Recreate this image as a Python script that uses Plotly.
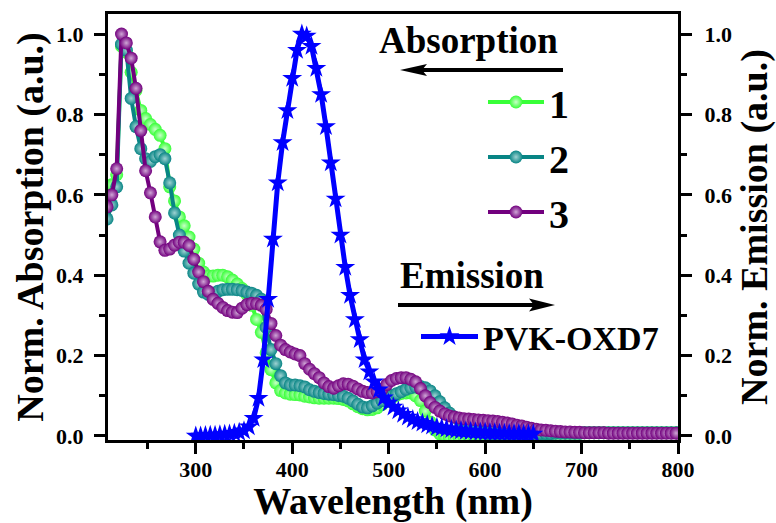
import plotly.graph_objects as go

# ---------------- data ----------------
WL_ABS = [208, 213, 218, 223, 228, 233, 238, 243, 248, 253,
          258, 263, 268, 273, 278, 283, 288, 293, 298, 303,
          308, 313, 318, 323, 328, 333, 338, 343, 348, 353,
          358, 363, 368, 373, 378, 383, 388, 393, 398, 403,
          408, 413, 418, 423, 428, 433, 438, 443, 448, 453,
          458, 463, 468, 473, 478, 483, 488, 493, 498, 503,
          508, 513, 518, 523, 528, 533, 538, 543, 548, 553,
          558, 563, 568, 573, 578, 583, 588, 593, 598, 603,
          608, 613, 618, 623, 628, 633, 638, 643, 648, 653,
          658, 663, 668, 673, 678, 683, 688, 693, 698, 703,
          708, 713, 718, 723, 728, 733, 738, 743, 748, 753,
          758, 763, 768, 773, 778, 783, 788, 793, 798]

ABS_1 = [0.60, 0.625, 0.65, 0.97, 0.955, 0.905, 0.86, 0.81, 0.79, 0.775,
         0.763, 0.748, 0.715, 0.62, 0.585, 0.545, 0.523, 0.495, 0.465, 0.43,
         0.408, 0.398, 0.398, 0.40, 0.40, 0.396, 0.388, 0.378, 0.367, 0.352,
         0.325, 0.29, 0.258, 0.207, 0.165, 0.132, 0.113, 0.107, 0.104, 0.103,
         0.102, 0.099, 0.097, 0.095, 0.094, 0.094, 0.094, 0.094, 0.093, 0.091,
         0.087, 0.08, 0.073, 0.068, 0.065, 0.066, 0.07, 0.078, 0.086, 0.094,
         0.101, 0.106, 0.107, 0.107, 0.10, 0.088, 0.062, 0.035, 0.015, 0.005,
         0.0, -0.003, -0.004, -0.003, -0.002, 0.0, 0.001, 0.002, 0.003, 0.004,
         0.005, 0.005, 0.005, 0.005, 0.005, 0.005, 0.005, 0.006, 0.006, 0.006,
         0.006, 0.006, 0.006, 0.007, 0.007, 0.007, 0.007, 0.007, 0.007, 0.008,
         0.008, 0.008, 0.008, 0.008, 0.008, 0.008, 0.008, 0.008, 0.008, 0.008,
         0.008, 0.008, 0.008, 0.008, 0.008, 0.008, 0.008, 0.008, 0.008]

ABS_2 = [0.54, 0.575, 0.62, 0.975, 0.96, 0.84, 0.77, 0.715, 0.69, 0.683,
         0.695, 0.70, 0.69, 0.63, 0.555, 0.50, 0.46, 0.43, 0.405, 0.378,
         0.358, 0.352, 0.355, 0.36, 0.364, 0.365, 0.365, 0.364, 0.362, 0.358,
         0.355, 0.35, 0.34, 0.27, 0.215, 0.18, 0.15, 0.132, 0.127, 0.127,
         0.125, 0.122, 0.115, 0.111, 0.108, 0.106, 0.104, 0.103, 0.101, 0.099,
         0.094, 0.087, 0.079, 0.072, 0.07, 0.075, 0.082, 0.088, 0.094, 0.10,
         0.105, 0.11, 0.116, 0.12, 0.122, 0.123, 0.12, 0.112, 0.10, 0.085,
         0.07, 0.057, 0.047, 0.04, 0.032, 0.024, 0.017, 0.012, 0.008, 0.006,
         0.005, 0.005, 0.005, 0.005, 0.005, 0.005, 0.005, 0.006, 0.006, 0.006,
         0.006, 0.006, 0.006, 0.007, 0.007, 0.007, 0.007, 0.007, 0.007, 0.008,
         0.008, 0.008, 0.008, 0.008, 0.008, 0.008, 0.008, 0.008, 0.008, 0.008,
         0.008, 0.008, 0.008, 0.008, 0.008, 0.008, 0.008, 0.008, 0.008]

ABS_3 = [0.57, 0.60, 0.665, 1.00, 0.978, 0.94, 0.865, 0.76, 0.66, 0.605,
         0.545, 0.483, 0.462, 0.465, 0.475, 0.482, 0.482, 0.474, 0.44, 0.408,
         0.384, 0.36, 0.34, 0.33, 0.32, 0.312, 0.308, 0.307, 0.318, 0.327,
         0.33, 0.329, 0.325, 0.315, 0.28, 0.25, 0.226, 0.215, 0.209, 0.204,
         0.20, 0.18, 0.166, 0.155, 0.145, 0.132, 0.123, 0.119, 0.125, 0.13,
         0.129, 0.124, 0.117, 0.111, 0.108, 0.107, 0.11, 0.116, 0.128, 0.138,
         0.143, 0.145, 0.145, 0.141, 0.135, 0.118, 0.10, 0.083, 0.071, 0.062,
         0.055, 0.05, 0.047, 0.045, 0.043, 0.042, 0.041, 0.04, 0.039, 0.038,
         0.037, 0.036, 0.034, 0.032, 0.03, 0.027, 0.025, 0.022, 0.019, 0.017,
         0.015, 0.014, 0.013, 0.012, 0.011, 0.01, 0.01, 0.009, 0.009, 0.008,
         0.008, 0.008, 0.008, 0.008, 0.007, 0.007, 0.007, 0.007, 0.007, 0.007,
         0.007, 0.007, 0.007, 0.007, 0.007, 0.007, 0.007, 0.007, 0.007]

WL_EM = [300, 305, 310, 315, 320, 325, 330, 335, 340, 345,
         350, 355, 360, 365, 370, 375, 380, 385, 390, 395,
         400, 405, 410, 415, 420, 425, 430, 435, 440, 445,
         450, 455, 460, 465, 470, 475, 480, 485, 490, 495,
         500, 505, 510, 515, 520, 525, 530, 535, 540, 545,
         550, 555, 560, 565, 570, 575, 580, 585, 590, 595,
         600, 605, 610, 615, 620, 625, 630, 635, 640, 645,
         650]

EM = [0.0, 0.0, 0.001, 0.002, 0.002, 0.003, 0.004, 0.005, 0.007, 0.009,
      0.013, 0.023, 0.044, 0.094, 0.19, 0.34, 0.49, 0.63, 0.73, 0.81,
      0.89, 0.96, 1.0, 0.995, 0.97, 0.915, 0.85, 0.77, 0.68, 0.59,
      0.50, 0.42, 0.35, 0.29, 0.24, 0.19, 0.16, 0.135, 0.115, 0.095,
      0.082, 0.072, 0.063, 0.054, 0.047, 0.041, 0.036, 0.032, 0.028, 0.025,
      0.022, 0.02, 0.018, 0.016, 0.014, 0.013, 0.012, 0.011, 0.01, 0.009,
      0.009, 0.008, 0.008, 0.007, 0.007, 0.006, 0.006, 0.006, 0.005, 0.005,
      0.005]

SERIES_NAMES = ["1", "2", "3"]
EM_NAME = "PVK-OXD7"
X_TICKS = [300, 400, 500, 600, 700, 800]
Y_TICKS = [0.0, 0.2, 0.4, 0.6, 0.8, 1.0]

# ---------------- style ----------------
W, H = 776, 523
PL, PR, PT, PB = 108, 678, 14, 440
FONT = "Liberation Serif"
COLORS = ["#38FF38", "#088585", "#72007E"]
GLOW = ["#C8FFC8", "#9ED2D2", "#CFA6D6"]
BLUE = "#0000FF"


def fx(p):
    return (p - PL) / (PR - PL)


def fy(p):
    return (PB - p) / (PB - PT)


fig = go.Figure()

for name, ys, c, g in zip(SERIES_NAMES, [ABS_1, ABS_2, ABS_3], COLORS, GLOW):
    fig.add_trace(go.Scatter(
        x=WL_ABS, y=ys, name=name, mode="lines+markers",
        line=dict(color=c, width=4),
        marker=dict(symbol="circle", size=13, color=c,
                    gradient=dict(type="radial", color=g),
                    line=dict(width=0)),
        legend="legend"))

fig.add_trace(go.Scatter(
    x=WL_EM, y=EM, name=EM_NAME, mode="lines+markers", yaxis="y2",
    line=dict(color=BLUE, width=5),
    marker=dict(symbol="star", size=15, color=BLUE, line=dict(width=0)),
    legend="legend2"))

tickfont = dict(family=FONT, size=22, color="black", weight="bold")
titlefont = dict(family=FONT, size=38, color="black", weight="bold")

axis_common = dict(
    showline=True, linewidth=3, linecolor="black",
    ticks="outside", ticklen=11, tickwidth=3, tickcolor="black",
    showgrid=False, zeroline=False, tickfont=tickfont,
)

fig.update_layout(
    width=W, height=H,
    margin=dict(l=PL, r=W - PR, t=PT, b=H - PB, pad=0, autoexpand=False),
    paper_bgcolor="white", plot_bgcolor="white",
    xaxis=dict(
        **axis_common, range=[209, 800], tickvals=X_TICKS,
        ticktext=[str(v) for v in X_TICKS], mirror=True,
        ticklabelstandoff=-3, automargin=True,
        minor=dict(dtick=50, tick0=0, ticklen=6, tickwidth=3,
                   tickcolor="black", ticks="outside"),
        title=dict(text="Wavelength (nm)", font=titlefont, standoff=8),
    ),
    yaxis=dict(
        **axis_common, range=[-0.01, 1.05], tickvals=Y_TICKS,
        ticktext=[f"{v:.1f}" for v in Y_TICKS], ticklabelstandoff=6,
        automargin=False,
        minor=dict(dtick=0.1, tick0=0, ticklen=6, tickwidth=3,
                   tickcolor="black", ticks="outside"),
        title=dict(text="Norm. Absorption (a.u.)", font=titlefont, standoff=1),
    ),
    yaxis2=dict(
        **axis_common, range=[-0.01, 1.05], tickvals=Y_TICKS,
        ticktext=[f"{v:.1f}" for v in Y_TICKS], ticklabelstandoff=8,
        automargin=False,
        overlaying="y", side="right", anchor="x",
        minor=dict(dtick=0.1, tick0=0, ticklen=6, tickwidth=3,
                   tickcolor="black", ticks="outside"),
        title=dict(text="Norm. Emission (a.u.)", font=titlefont, standoff=12),
    ),
    legend=dict(
        x=fx(483), y=fy(157), xanchor="left", yanchor="middle",
        bgcolor="rgba(0,0,0,0)", borderwidth=0, itemwidth=56,
        font=dict(family=FONT, size=40, color="black", weight="bold"),
        tracegroupgap=0,
    ),
    legend2=dict(
        x=fx(416), y=fy(337), xanchor="left", yanchor="middle",
        bgcolor="rgba(0,0,0,0)", borderwidth=0, itemwidth=57,
        font=dict(family=FONT, size=34, color="black", weight="bold"),
    ),
    showlegend=True,
)

# headings for the two legend blocks
fig.add_annotation(x=fx(468), y=fy(40), xref="paper", yref="paper",
                   text="Absorption", showarrow=False,
                   font=dict(family=FONT, size=37, color="black", weight="bold"),
                   xanchor="center", yanchor="middle")
fig.add_annotation(x=fx(472), y=fy(275), xref="paper", yref="paper",
                   text="Emission", showarrow=False,
                   font=dict(family=FONT, size=37, color="black", weight="bold"),
                   xanchor="center", yanchor="middle")

# arrows (shaft + concave head)
shapes = []
shapes.append(dict(type="line", xref="paper", yref="paper",
                   x0=fx(420), x1=fx(563), y0=fy(70), y1=fy(70),
                   line=dict(color="black", width=4)))
shapes.append(dict(type="path", xref="paper", yref="paper",
                   xsizemode="pixel", ysizemode="pixel",
                   xanchor=fx(400), yanchor=fy(70),
                   path="M0,0 L27,6 L22,0 L27,-6 Z",
                   fillcolor="black", line=dict(width=0)))
shapes.append(dict(type="line", xref="paper", yref="paper",
                   x0=fx(398), x1=fx(535), y0=fy(305), y1=fy(305),
                   line=dict(color="black", width=4)))
shapes.append(dict(type="path", xref="paper", yref="paper",
                   xsizemode="pixel", ysizemode="pixel",
                   xanchor=fx(555), yanchor=fy(305),
                   path="M0,0 L-26,6.5 L-21,0 L-26,-6.5 Z",
                   fillcolor="black", line=dict(width=0)))
fig.update_layout(shapes=shapes)

fig.write_html("out.html")
